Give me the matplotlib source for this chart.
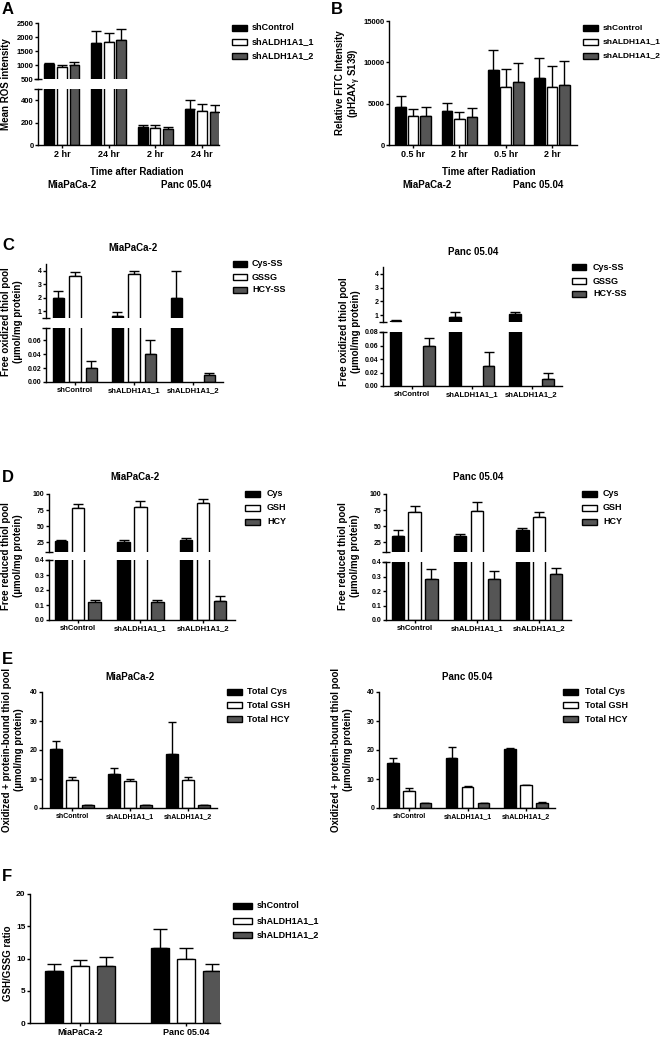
import matplotlib
matplotlib.use('Agg')
import matplotlib.pyplot as plt
from matplotlib.patches import Rectangle
from matplotlib.ticker import FormatStrFormatter
import numpy as np

plt.rcParams['font.family'] = ['Liberation Sans', 'DejaVu Sans']
plt.rcParams['font.weight'] = 'bold'
plt.rcParams['mathtext.fontset'] = 'custom'
plt.rcParams['mathtext.rm'] = 'Liberation Sans:bold'
plt.rcParams['mathtext.it'] = 'Liberation Sans:bold'
plt.rcParams['mathtext.bf'] = 'Liberation Sans:bold'
plt.rcParams['mathtext.default'] = 'rm'
plt.rcParams['axes.linewidth'] = 1.0
plt.rcParams['xtick.major.width'] = 1.0
plt.rcParams['ytick.major.width'] = 1.0
plt.rcParams['xtick.major.size'] = 2.2
plt.rcParams['ytick.major.size'] = 2.2
plt.rcParams['xtick.major.pad'] = 1.5
plt.rcParams['ytick.major.pad'] = 1.0

# ---------------- data ----------------
shrna = ['shControl', 'shALDH1A1_1', 'shALDH1A1_2']
cell_lines = ['MiaPaCa-2', 'Panc 05.04']

# A: mean ROS intensity (rows: shControl, sh1, sh2)
ros_times = ['2 hr', '24 hr', '2 hr', '24 hr']
ros_mean = [[1020, 1800, 160, 320],
            [930, 1820, 150, 308],
            [1010, 1910, 141, 297]]
ros_err = [[40, 410, 22, 80],
           [55, 330, 30, 60],
           [80, 390, 24, 62]]

# B: relative FITC intensity
fitc_times = ['0.5 hr', '2 hr', '0.5 hr', '2 hr']
fitc_mean = [[4640, 4150, 9050, 8060],
             [3470, 3100, 6980, 6980],
             [3540, 3380, 7580, 7260]]
fitc_err = [[1230, 970, 2450, 2420],
            [830, 850, 2260, 2520],
            [1020, 1050, 2300, 2940]]

# C: free oxidized thiol pool (rows: Cys-SS, GSSG, HCY-SS; cols: shRNA)
ox_labels = ['Cys-SS', 'GSSG', 'HCY-SS']
ox_mia = [[1.95, 0.63, 2.0],
          [3.62, 3.75, 0.0],
          [0.02, 0.04, 0.01]]
ox_mia_err = [[0.53, 0.30, 1.97],
              [0.32, 0.25, 0.0],
              [0.011, 0.021, 0.003]]
ox_panc = [[0.60, 0.85, 1.05],
           [0.0, 0.0, 0.0],
           [0.06, 0.03, 0.01]]
ox_panc_err = [[0.07, 0.40, 0.17],
               [0.0, 0.0, 0.0],
               [0.011, 0.02, 0.01]]

# D: free reduced thiol pool (rows: Cys, GSH, HCY)
red_labels = ['Cys', 'GSH', 'HCY']
red_mia = [[27, 26, 28.5],
           [78, 80, 86],
           [0.12, 0.12, 0.13]]
red_mia_err = [[2, 2.5, 2.5],
               [6, 9.5, 6],
               [0.013, 0.013, 0.028]]
red_panc = [[35, 35.5, 44],
            [71.5, 74, 64],
            [0.28, 0.285, 0.32]]
red_panc_err = [[9, 3, 3],
                [10.5, 14, 7.5],
                [0.075, 0.05, 0.04]]

# E: oxidized + protein-bound thiol pool (rows: Total Cys, GSH, HCY)
tot_labels = ['Total Cys', 'Total GSH', 'Total HCY']
tot_mia = [[20.2, 11.8, 18.5],
           [9.8, 9.2, 9.8],
           [1.0, 0.9, 0.9]]
tot_mia_err = [[2.8, 1.9, 11.2],
               [1.0, 0.8, 1.0],
               [0.1, 0.1, 0.1]]
tot_panc = [[15.6, 17.4, 20.2],
            [5.8, 7.4, 7.9],
            [1.7, 1.7, 1.8]]
tot_panc_err = [[1.8, 3.6, 0.5],
                [1.0, 0.15, 0.15],
                [0.1, 0.1, 0.2]]

# F: GSH/GSSG ratio (rows: shRNA; cols: cell lines)
ratio_mean = [[8.1, 11.7],
              [8.8, 10.0],
              [8.9, 8.1]]
ratio_err = [[1.1, 2.8],
             [1.0, 1.7],
             [1.3, 1.0]]

colors = ['#000000', '#ffffff', '#555555']

# ---------------- figure ----------------
W, H = 664, 1038
fig = plt.figure(figsize=(W / 100, H / 100), dpi=100)


def add_ax(x0, y0, x1, y1):
    return fig.add_axes([x0 / W, 1 - y1 / H, (x1 - x0) / W, (y1 - y0) / H])


def ftext(x, y, s, **kw):
    return fig.text(x / W, 1 - y / H, s, **kw)


def grouped(ax, means, errs, width, step, capsize):
    n = len(means[0])
    x = np.arange(n)
    for i, (m, e, c) in enumerate(zip(means, errs, colors)):
        m = np.asarray(m, float)
        e = np.asarray(e, float)
        keep = m > 0
        off = (i - 1) * step
        ax.bar(x[keep] + off, m[keep], width, color=c, edgecolor='black',
               linewidth=1.0, zorder=2)
        ax.errorbar(x[keep] + off, m[keep], yerr=[np.zeros(keep.sum()), e[keep]],
                    fmt='none', ecolor='black', elinewidth=1.0, capsize=capsize,
                    capthick=1.0, zorder=1)


def style(ax, xlim, ylim, yticks, yfs, xlabels=None, xfs=6, fmt=None):
    ax.set_xlim(xlim)
    ax.set_ylim(ylim)
    ax.spines['top'].set_visible(False)
    ax.spines['right'].set_visible(False)
    ax.set_yticks(yticks)
    if fmt:
        ax.yaxis.set_major_formatter(FormatStrFormatter(fmt))
    ax.tick_params(axis='y', labelsize=yfs)
    if xlabels is not None:
        ax.set_xticks(range(len(xlabels)))
        ax.set_xticklabels(xlabels, fontsize=xfs)
    else:
        ax.spines['bottom'].set_visible(False)
        ax.set_xticks([])


def brk(ax, where, wpx, d=4):
    ax.plot([-d / wpx, d / wpx], [where, where], transform=ax.transAxes,
            color='black', lw=1.0, clip_on=False, solid_capstyle='butt')


def legend(labels, xp, xt, ys, pw=15, ph=6, fs=6.5):
    for lab, c, y in zip(labels, colors, ys):
        fig.add_artist(Rectangle((xp / W, 1 - (y + ph / 2) / H), pw / W, ph / H,
                                 transform=fig.transFigure, facecolor=c,
                                 edgecolor='black', lw=1.0))
        ftext(xt, y, lab, fontsize=fs, ha='left', va='center')


# ---- A ----
for (y0, y1, ylim, yt, xl) in [(23, 79, (500, 2500), [500, 1000, 1500, 2000, 2500], None),
                               (89, 145, (0, 500), [0, 200, 400], ros_times)]:
    ax = add_ax(38, y0, 219, y1)
    grouped(ax, ros_mean, ros_err, 0.21, 0.27, 3.3)
    style(ax, (-0.51, 3.36), ylim, yt, 5.5, xl, 6.5)
    brk(ax, 0 if xl is None else 1, 181)
ftext(6, 84, 'Mean ROS intensity', fontsize=7, rotation=90, ha='center', va='center')
ftext(137, 172, 'Time after Radiation', fontsize=7, ha='center', va='center')
ftext(72, 185, cell_lines[0], fontsize=7, ha='center', va='center')
ftext(186, 185, cell_lines[1], fontsize=7, ha='center', va='center')
legend(shrna, 232, 252, [28, 42, 56])

# ---- B ----
ax = add_ax(389, 21, 577, 145)
grouped(ax, fitc_mean, fitc_err, 0.23, 0.27, 3.4)
style(ax, (-0.52, 3.54), (0, 15000), [0, 5000, 10000, 15000], 5.5, fitc_times, 6.5)
ftext(349, 83, 'Relative FITC Intensity\n(pH2AX$_\\gamma$ S139)', fontsize=7,
      rotation=90, ha='center', va='center', multialignment='center')
ftext(489, 172, 'Time after Radiation', fontsize=7, ha='center', va='center')
ftext(427, 185, cell_lines[0], fontsize=7, ha='center', va='center')
ftext(538, 185, cell_lines[1], fontsize=7, ha='center', va='center')
legend(shrna, 583, 603, [28, 42, 56], fs=6)

# ---- C ----
ylab_ox = 'Free oxidized thiol pool\n(µmol/mg protein)'
for (x0, x1, uy, ly, lim_lo, lt_lo, data, err, title, tx, ty, lx, ly_lab, legx) in [
        (46, 223, (264, 318), (328, 382), 0.078, [0, 0.02, 0.04, 0.06], ox_mia, ox_mia_err,
         cell_lines[0], 133, 248, 12, 322, (233, 252, [264, 277, 290])),
        (383, 562, (267, 322), (332, 386), 0.08, [0, 0.02, 0.04, 0.06, 0.08], ox_panc, ox_panc_err,
         cell_lines[1], 473, 252, 350, 332, (572, 593, [267, 281, 294]))]:
    axu = add_ax(x0, uy[0], x1, uy[1])
    grouped(axu, data, err, 0.195, 0.28, 3.3)
    style(axu, (-0.49, 2.51), (0.5, 4.5), [1, 2, 3, 4], 5)
    brk(axu, 0, x1 - x0)
    axl = add_ax(x0, ly[0], x1, ly[1])
    grouped(axl, data, err, 0.195, 0.28, 3.3)
    style(axl, (-0.49, 2.51), (0, lim_lo), lt_lo, 5, shrna, 5.5, fmt='%.2f')
    brk(axl, 1, x1 - x0)
    ftext(tx, ty, title, fontsize=7, ha='center', va='center')
    ftext(lx, ly_lab, ylab_ox, fontsize=7, rotation=90, ha='center', va='center',
          multialignment='center')
    legend(ox_labels, legx[0], legx[1], legx[2], pw=14, fs=6.5)

# ---- D ----
ylab_red = 'Free reduced thiol pool\n(µmol/mg protein)'
for (x0, x1, lo_top, data, err, title, tx, lx, legx) in [
        (49, 235, 560, red_mia, red_mia_err, cell_lines[0], 135, 12, (245, 267)),
        (386, 571, 562, red_panc, red_panc_err, cell_lines[1], 478, 349, (582, 603))]:
    axu = add_ax(x0, 494, x1, 552)
    grouped(axu, data, err, 0.2, 0.27, 3.8)
    style(axu, (-0.46, 2.51), (10, 100), [25, 50, 75, 100], 5)
    brk(axu, 0, x1 - x0)
    axl = add_ax(x0, lo_top, x1, 620)
    grouped(axl, data, err, 0.2, 0.27, 3.8)
    style(axl, (-0.46, 2.51), (0, 0.4), [0, 0.1, 0.2, 0.3, 0.4], 5, shrna, 5.5, fmt='%.1f')
    brk(axl, 1, x1 - x0)
    ftext(tx, 477, title, fontsize=7, ha='center', va='center')
    ftext(lx, 556, ylab_red, fontsize=7, rotation=90, ha='center', va='center',
          multialignment='center')
    legend(red_labels, legx[0], legx[1], [494, 508, 522], fs=6.5)

# ---- E ----
ylab_tot = 'Oxidized + protein-bound thiol pool\n(µmol/mg protein)'
for (x0, x1, data, err, title, tx, lx, legx) in [
        (42, 217, tot_mia, tot_mia_err, cell_lines[0], 130, 13, (227, 247)),
        (379, 555, tot_panc, tot_panc_err, cell_lines[1], 467, 342, (563, 585))]:
    ax = add_ax(x0, 692, x1, 808)
    grouped(ax, data, err, 0.2, 0.275, 2.8)
    style(ax, (-0.52, 2.5), (0, 40), [0, 10, 20, 30, 40], 5, shrna, 5)
    ftext(tx, 677, title, fontsize=7, ha='center', va='center')
    ftext(lx, 750, ylab_tot, fontsize=7, rotation=90, ha='center', va='center',
          multialignment='center')
    legend(tot_labels, legx[0], legx[1], [692, 705, 719], fs=6.5)

# ---- F ----
ax = add_ax(30, 894, 220, 1023)
grouped(ax, ratio_mean, ratio_err, 0.167, 0.245, 5.2)
style(ax, (-0.47, 1.32), (0, 20), [0, 5, 10, 15, 20], 6, cell_lines, 6.5)
ftext(8, 963, 'GSH/GSSG ratio', fontsize=7, rotation=90, ha='center', va='center')
legend(shrna, 233, 257, [906, 921, 935], pw=19, fs=6.5)

# ---- panel letters ----
for letter, x, y in [('A', 2, 2), ('B', 331, 2), ('C', 2, 238), ('D', 2, 470),
                     ('E', 2, 652), ('F', 2, 869)]:
    ftext(x, y, letter, fontsize=12, ha='left', va='top')

fig.savefig('out.png', dpi=100)
